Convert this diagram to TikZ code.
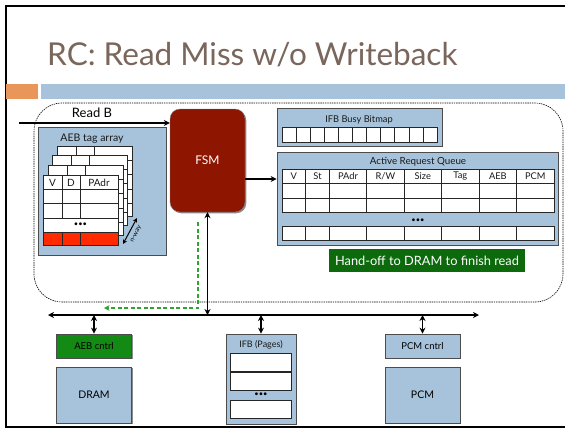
\documentclass[tikz,border=0pt]{standalone}
\usepackage{fontspec}
\setmainfont{Lato}
\usetikzlibrary{arrows.meta,shadows,calc}
\definecolor{panelblue}{HTML}{A7C3DB}
\definecolor{fsmred}{HTML}{8E1500}
\definecolor{handgreen}{HTML}{0C6A0C}
\definecolor{aebgreen}{HTML}{138A13}
\definecolor{redcell}{HTML}{FF2A00}
\definecolor{dashgreen}{HTML}{2EA52E}
\definecolor{titlecol}{HTML}{7A665B}
\definecolor{orangebar}{HTML}{E8965A}
\definecolor{barblue}{HTML}{A7C3DB}
\begin{document}
\begin{tikzpicture}[x=1pt,y=-1pt,
  >={Stealth[length=6pt,width=6pt,inset=2pt]},
  shade box/.style={drop shadow={shadow xshift=1.3pt,shadow yshift=-1.3pt,opacity=0.45,fill=black}},
  panel/.style={draw=black!70,fill=panelblue,line width=0.8pt,inner sep=0pt,shade box},
  cellbox/.style={draw=black!85,fill=white,line width=0.6pt},
  cellline/.style={draw=black!85,line width=0.6pt},
  lbl/.style={inner sep=0pt,text=black!90,font=\fontsize{9.3}{10}\selectfont},
  dotlbl/.style={inner sep=0pt,font=\fontsize{7.5}{7.5}\selectfont},
  conn/.style={line width=1.3pt},
  bigbox/.style={panel,minimum width=75pt,font=\fontsize{9.5}{11}\selectfont}]
\fill[white] (0,0) rectangle (565,429);
\useasboundingbox (0,0) rectangle (565,429);
% slide frame
\draw[line width=1.6pt] (565,6) -- (6,6) -- (6,427) -- (565,427);
% title and bars
\node[anchor=base west,inner sep=0pt,text=titlecol,font=\fontsize{31.5}{34}\selectfont] (title) at (47,65) {RC: Read Miss w/o Writeback};
\fill[orangebar] (6,84) rectangle (38,99);
\fill[barblue] (41,84) rectangle (565,99);
% dashed container
\draw[line width=0.6pt,dash pattern=on 1.4pt off 0.9pt,rounded corners=28pt] (34,103) rectangle (563,302);
% FSM
\node[draw=black!50,fill=fsmred,rounded corners=10pt,minimum width=75pt,minimum height=103pt,text=white,font=\fontsize{12}{14}\selectfont,shade box] (fsm) at (207.5,160.5) {FSM};
% Read B
\coordinate (readin) at (19,123);
\draw[conn,->] (readin) -- (readin -| fsm.west);
\node[inner sep=0pt,font=\fontsize{13}{15}\selectfont] (readb) at (92,113) {Read B};
% AEB tag array
\node[panel,minimum width=128pt,minimum height=128pt] (aebp) at (102,191) {};
\node[lbl,font=\fontsize{10.5}{12}\selectfont] (aebt) at (92,139) {AEB tag array};
\foreach \k in {3,2,1,0}{
  \begin{scope}[shift={(4.8*\k,-9.7*\k)}]
    \draw[cellbox] (43,175) rectangle (118,245);
    \ifnum\k=0
      \fill[redcell] (43,232) rectangle (118,245);
    \fi
    \draw[cellline] (43,175) rectangle (118,245);
    \draw[cellline] (43,189) -- (118,189) (43,203) -- (118,203) (43,218) -- (118,218) (43,232) -- (118,232);
    \draw[cellline] (62,175) -- (62,218) (80,175) -- (80,218);
    \ifnum\k=0
      \draw[cellline] (62,232) -- (62,245) (80,232) -- (80,245);
    \fi
  \end{scope}
}
\node[lbl,font=\fontsize{10}{11}\selectfont] (aebV) at (52.5,182.5) {V};
\node[lbl,font=\fontsize{10}{11}\selectfont] (aebD) at (71,182.5) {D};
\node[lbl,font=\fontsize{10}{11}\selectfont] (aebP) at (99,182.5) {PAdr};
\node[dotlbl] (aebdots) at (80.5,225) {•••};
\coordinate (nw1) at (123,244);
\coordinate (nw2) at (137,218);
\draw[line width=1pt,<->,>={Stealth[length=4.5pt,width=4.5pt,inset=1.5pt]}] (nw1) -- (nw2);
\node[inner sep=0pt,rotate=62,anchor=north,font=\fontsize{6.5}{7}\selectfont] (nway) at ($(nw1)!0.5!(nw2)+(4,2)$) {n-way};
% IFB Busy Bitmap
\node[panel,minimum width=165pt,minimum height=38pt] (ifbb) at (359.5,127) {};
\node[lbl] (ifbbt) at (359,119.5) {IFB Busy Bitmap};
\foreach \i in {0,...,10}{
  \draw[cellbox] (282+14.09*\i,127) rectangle (282+14.09*\i+14.09,142);
}
% Active Request Queue
\node[panel,minimum width=281pt,minimum height=93pt] (arq) at (417.5,198.5) {};
\node[lbl,font=\fontsize{9.8}{11}\selectfont] (arqt) at (418,161.5) {Active Request Queue};
\draw[cellbox] (282,169) rectangle (554,212);
\draw[cellbox] (282,226) rectangle (554,240);
\draw[cellline] (282,183) -- (554,183) (282,198) -- (554,198);
\foreach \c in {305.7,329.3,366.7,404,441.7,479,516.7}{
  \draw[cellline] (\c,169) -- (\c,212) (\c,226) -- (\c,240);
}
\foreach \t/\xa/\xb [count=\n] in {V/282/305.7,St/305.7/329.3,PAdr/329.3/366.7,{R/W}/366.7/404,Size/404/441.7,Tag/441.7/479,AEB/479/516.7,PCM/516.7/554}{
  \node[lbl] (arqh\n) at ({(\xa+\xb)/2},176.5) {\t};
}
\node[dotlbl] (arqdots) at (418,221) {•••};
% FSM to ARQ
\coordinate (q) at (245,179);
\draw[conn,->] (q) -- (q -| arq.west);
% Hand-off
\node[fill=handgreen,minimum width=196pt,minimum height=23pt,inner sep=0pt,text=white,font=\fontsize{12.8}{14}\selectfont] (hand) at (427,260.5) {Hand-off to DRAM to finish read};
% bus
\coordinate (busL) at (48,315);
\coordinate (busR) at (479,315);
\draw[conn,<->] (busL) -- (busR);
\draw[conn,<->] (fsm.south) -- (fsm.south |- busL);
% green dashed return
\coordinate (g1) at (198,222);
\coordinate (g2) at (198,308);
\coordinate (g3) at (104,308);
\draw[line width=1.3pt,draw=dashgreen,dash pattern=on 4pt off 2.5pt,->,>={Stealth[length=5.5pt,width=5.5pt,inset=2pt]}] (g1) -- (g2) -- (g3);
% bottom boxes
\node[bigbox,fill=aebgreen,minimum height=24pt] (aebc) at (94,346) {AEB cntrl};
\node[bigbox,minimum height=56pt,font=\fontsize{10.5}{12}\selectfont] (dram) at (94,395) {DRAM};
\node[bigbox,minimum height=24pt] (pcmc) at (422.5,346) {PCM cntrl};
\node[bigbox,minimum height=56pt,font=\fontsize{10.5}{12}\selectfont] (pcm) at (422.5,395) {PCM};
\node[panel,minimum width=70pt,minimum height=90pt] (ifbp) at (261,379) {};
\node[lbl,font=\fontsize{9}{10}\selectfont] (ifbpt) at (261,345) {IFB (Pages)};
\draw[cellbox] (230.6,353) rectangle (291,371);
\draw[cellbox] (230.6,372) rectangle (291,390);
\draw[cellbox] (230.6,400) rectangle (291,418);
\node[dotlbl] (ifbdots) at (261,394.5) {•••};
\draw[conn,<->] (aebc.north |- busL) -- (aebc.north);
\draw[conn,<->] (ifbp.north |- busL) -- (ifbp.north);
\draw[conn,<->] (pcmc.north |- busL) -- (pcmc.north);
\end{tikzpicture}
\end{document}
